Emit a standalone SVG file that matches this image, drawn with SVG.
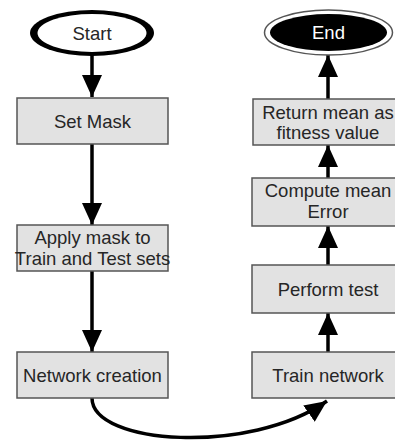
<svg xmlns="http://www.w3.org/2000/svg" width="395" height="442" viewBox="0 0 395 442">
  <style>
    .box { fill: #e2e2e2; stroke: #555555; stroke-width: 1.5; }
    .lbl { font-family: "Liberation Sans", Arial, sans-serif; font-size: 18.5px; fill: #262626; text-anchor: middle; }
    .wire { fill: none; stroke: #000000; stroke-width: 3.5; }
  </style>
  <defs>
    <marker id="arrow" viewBox="0 0 22 20" refX="22" refY="10" markerWidth="22" markerHeight="20" markerUnits="userSpaceOnUse" orient="auto">
      <path d="M0,0 L22,10 L0,20 Z" fill="#000000"/>
    </marker>
  </defs>
  <rect width="395" height="442" fill="#ffffff"/>

  <!-- connectors -->
  <g id="connectors">
    <line class="wire" x1="92" y1="55" x2="92" y2="97" marker-end="url(#arrow)"/>
    <line class="wire" x1="92" y1="144" x2="92" y2="225" marker-end="url(#arrow)"/>
    <line class="wire" x1="92" y1="271" x2="92" y2="352" marker-end="url(#arrow)"/>
    <path class="wire" d="M92,398 C92,445 250,455 327,401" marker-end="url(#arrow)"/>
    <line class="wire" x1="328" y1="352" x2="328" y2="313" marker-end="url(#arrow)"/>
    <line class="wire" x1="328" y1="265" x2="328" y2="226" marker-end="url(#arrow)"/>
    <line class="wire" x1="328" y1="178" x2="328" y2="145" marker-end="url(#arrow)"/>
    <line class="wire" x1="328" y1="99" x2="328" y2="55" marker-end="url(#arrow)"/>
  </g>

  <!-- start terminal: heavy outline, thicker at the sides -->
  <g id="start">
    <ellipse cx="92" cy="33" rx="62" ry="23" fill="#000000"/>
    <ellipse cx="92" cy="33" rx="54.5" ry="19" fill="#ffffff"/>
    <text class="lbl" x="92" y="39.5">Start</text>
  </g>

  <g id="set-mask">
    <rect class="box" x="17" y="98" width="151" height="46"/>
    <text class="lbl" x="92.5" y="127.5">Set Mask</text>
  </g>

  <g id="apply-mask">
    <rect class="box" x="17" y="225" width="151" height="46"/>
    <text class="lbl" x="92.5" y="244">Apply mask to</text>
    <text class="lbl" x="92.5" y="265">Train and Test sets</text>
  </g>

  <g id="network-creation">
    <rect class="box" x="17" y="352" width="151" height="46"/>
    <text class="lbl" x="92.5" y="381.5">Network creation</text>
  </g>

  <g id="train-network">
    <rect class="box" x="252" y="352" width="152" height="46"/>
    <text class="lbl" x="328" y="381.5">Train network</text>
  </g>

  <g id="perform-test">
    <rect class="box" x="252" y="265" width="152" height="48"/>
    <text class="lbl" x="328" y="295.5">Perform test</text>
  </g>

  <g id="compute-mean">
    <rect class="box" x="252" y="178" width="152" height="48"/>
    <text class="lbl" x="328" y="197">Compute mean</text>
    <text class="lbl" x="328" y="218">Error</text>
  </g>

  <g id="return-mean">
    <rect class="box" x="253" y="99" width="152" height="46"/>
    <text class="lbl" x="328" y="118.5">Return mean as</text>
    <text class="lbl" x="328" y="138.5">fitness value</text>
  </g>

  <!-- end terminal: double outline with solid core -->
  <g id="end">
    <ellipse cx="328.5" cy="32.5" rx="64" ry="22.5" fill="#ffffff" stroke="#555555" stroke-width="1.5"/>
    <ellipse cx="328.5" cy="32.5" rx="58.5" ry="18.5" fill="#000000"/>
    <text class="lbl" x="328.5" y="39" style="fill:#ffffff">End</text>
  </g>
</svg>
